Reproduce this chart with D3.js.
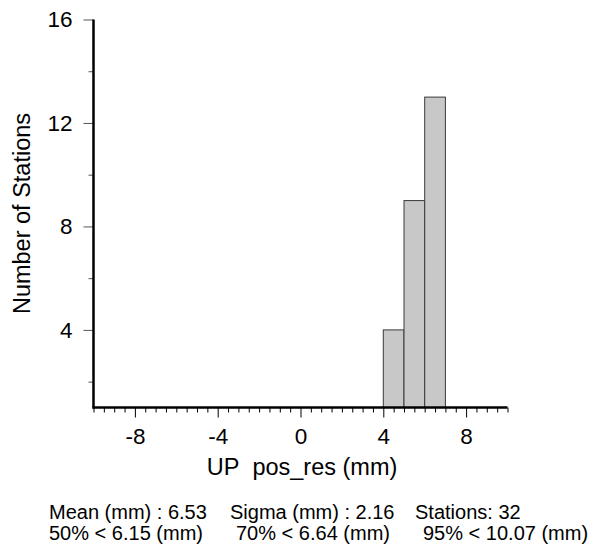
<!DOCTYPE html>
<html>
<head>
<meta charset="utf-8">
<script src="https://cdn.jsdelivr.net/npm/d3@7"></script>
<style>
  body { margin: 0; background: #fff; }
  svg { font-family: "Liberation Sans", Arial, sans-serif; display: block; }
</style>
</head>
<body>
<div id="chart"></div>
<script>
const WIDTH = 594;
const HEIGHT = 549;

// histogram bins (mm) and station counts
const binStarts = [4, 5, 6];
const binWidth = 1;
const counts = [4, 9, 13];

const xMajorTicks = [-8, -4, 0, 4, 8];
const yMajorTicks = [4, 8, 12, 16];
const xDomain = [-10, 10];
const yDomain = [1, 16];

const xLabel = 'UP\u00a0\u00a0pos_res (mm)';
const yLabel = 'Number of Stations';
const statsLine1 = ['Mean (mm) : 6.53', 'Sigma (mm) : 2.16', 'Stations: 32'];
const statsLine2 = ['50% < 6.15 (mm)', '70% < 6.64 (mm)', '95% < 10.07 (mm)'];

const TICK_FONT = 22.5;
const TITLE_FONT = 23.5;
const STATS_FONT = 20;

const svg = d3.select('#chart')
  .append('svg')
  .attr('width', WIDTH)
  .attr('height', HEIGHT);

const xScale = d3.scaleLinear().domain(xDomain).range([93.5, 507.5]);
const yScale = d3.scaleLinear().domain(yDomain).range([407.5, 19.5]);

// plain hyphen for negatives, like the original
const fmt = d => String(d);

// bars
svg.selectAll('rect.bar')
  .data(counts)
  .enter()
  .append('rect')
  .attr('class', 'bar')
  .attr('x', (d, i) => xScale(binStarts[i]))
  .attr('y', d => yScale(d))
  .attr('width', (d, i) => xScale(binStarts[i] + binWidth) - xScale(binStarts[i]))
  .attr('height', d => yScale(yDomain[0]) - yScale(d))
  .attr('fill', '#c8c8c8')
  .attr('stroke', '#3a3a3a')
  .attr('stroke-width', 1);

// minor ticks every 0.5 on x, every 4 on y (offset by 2)
const xMinor = d3.range(xDomain[0], xDomain[1] + 0.001, 0.5).filter(v => !xMajorTicks.includes(v));
const yMinor = d3.range(2, 16, 4);

const xAxisG = svg.append('g')
  .attr('class', 'axis')
  .attr('transform', `translate(0, ${yScale(yDomain[0])})`);
xAxisG.append('g')
  .call(d3.axisBottom(xScale).tickValues(xMinor).tickSize(5).tickFormat(''))
  .call(g => g.select('.domain').remove())
  .selectAll('line').attr('stroke', '#000');
xAxisG.append('g')
  .call(d3.axisBottom(xScale).tickValues(xMajorTicks).tickSize(10).tickPadding(11).tickFormat(fmt))
  .call(g => g.select('.domain').remove())
  .selectAll('line').attr('stroke', '#000');

const yAxisG = svg.append('g')
  .attr('class', 'axis')
  .attr('transform', `translate(${xScale(xDomain[0])}, 0)`);
yAxisG.append('g')
  .call(d3.axisLeft(yScale).tickValues(yMinor).tickSize(5).tickFormat(''))
  .call(g => g.select('.domain').remove())
  .selectAll('line').attr('stroke', '#555');
yAxisG.append('g')
  .call(d3.axisLeft(yScale).tickValues(yMajorTicks).tickSize(10).tickPadding(11).tickFormat(fmt))
  .call(g => g.select('.domain').remove())
  .selectAll('line').attr('stroke', '#555');

svg.selectAll('.axis text')
  .attr('font-family', '"Liberation Sans", Arial, sans-serif')
  .attr('font-size', TICK_FONT)
  .attr('fill', '#000');

// heavy axis lines
svg.append('line')
  .attr('x1', xScale(xDomain[0])).attr('x2', xScale(xDomain[0]))
  .attr('y1', yScale(yDomain[1])).attr('y2', yScale(yDomain[0]) + 1)
  .attr('stroke', '#000').attr('stroke-width', 2.5);
svg.append('line')
  .attr('x1', xScale(xDomain[0]) - 1).attr('x2', xScale(xDomain[1]))
  .attr('y1', yScale(yDomain[0])).attr('y2', yScale(yDomain[0]))
  .attr('stroke', '#000').attr('stroke-width', 2.5);

// axis titles
svg.append('text')
  .attr('x', 302)
  .attr('y', 475)
  .attr('text-anchor', 'middle')
  .attr('font-size', TITLE_FONT)
  .text(xLabel);
svg.append('text')
  .attr('transform', 'translate(30, 213.5) rotate(-90)')
  .attr('text-anchor', 'middle')
  .attr('font-size', TITLE_FONT)
  .text(yLabel);

// summary statistics
const statsX1 = [49, 230, 415];
const statsX2 = [49, 236, 423];
svg.selectAll('text.stat1')
  .data(statsLine1)
  .enter()
  .append('text')
  .attr('class', 'stat1')
  .attr('x', (d, i) => statsX1[i])
  .attr('y', 519)
  .attr('font-size', STATS_FONT)
  .text(d => d);
svg.selectAll('text.stat2')
  .data(statsLine2)
  .enter()
  .append('text')
  .attr('class', 'stat2')
  .attr('x', (d, i) => statsX2[i])
  .attr('y', 540)
  .attr('font-size', STATS_FONT)
  .text(d => d);
</script>
</body>
</html>
